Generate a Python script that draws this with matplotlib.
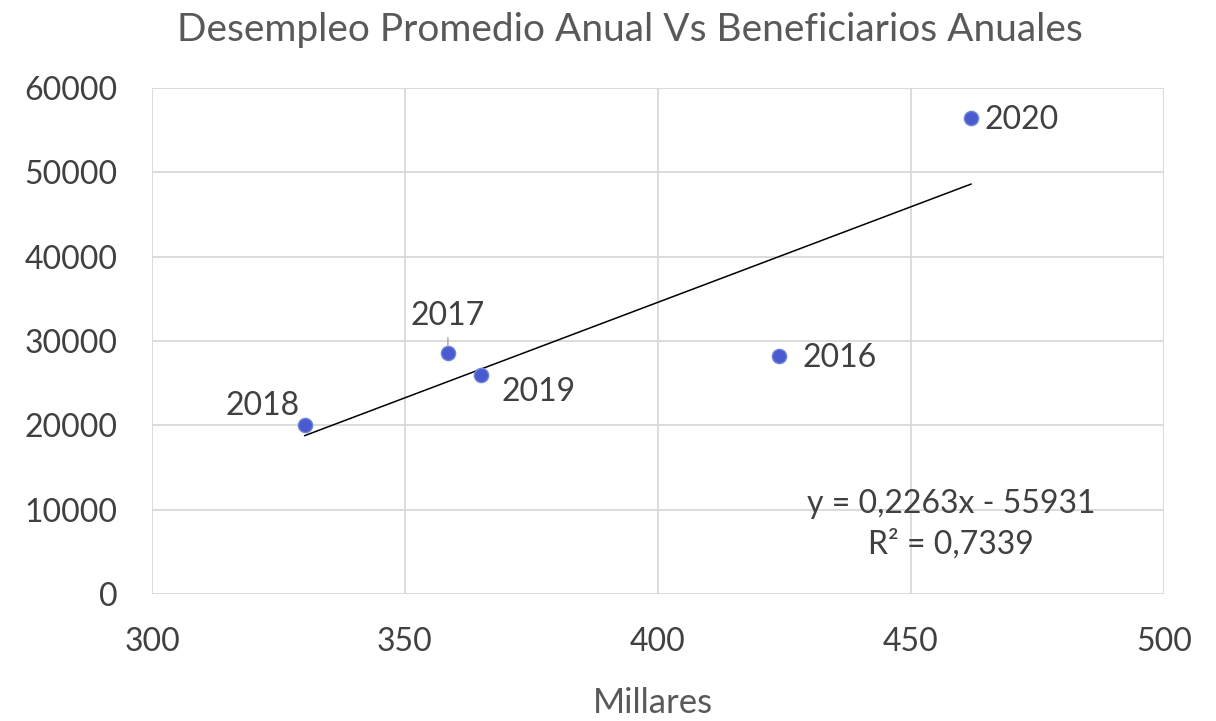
import matplotlib
matplotlib.use("Agg")
import matplotlib.pyplot as plt
import numpy as np

years = ["2016", "2017", "2018", "2019", "2020"]
desempleo_miles = [423.9, 358.5, 330.2, 365.0, 461.9]   # x, in thousands
beneficiarios = [28220, 28580, 20040, 25970, 56440]     # y
xticks = [300, 350, 400, 450, 500]
yticks = [0, 10000, 20000, 30000, 40000, 50000, 60000]
title = "Desempleo Promedio Anual Vs Beneficiarios Anuales"
xlabel = "Millares"
eq_text = "y = 0,2263x - 55931\nR² = 0,7339"

plt.rcParams['font.family'] = ['Lato', 'DejaVu Sans']

fig = plt.figure(figsize=(12.16, 7.21), dpi=100)
ax = fig.add_axes([0.125, 0.176, 0.832, 0.702])

x = np.array(desempleo_miles)
y = np.array(beneficiarios)

ax.set_xlim(300, 500)
ax.set_ylim(0, 60000)
ax.set_xticks(xticks)
ax.set_yticks(yticks)
ax.grid(True, color="#D9D9D9", linewidth=1.3)
ax.set_axisbelow(True)
for s in ax.spines.values():
    s.set_visible(False)
ax.tick_params(length=0, labelsize=23, colors="#404040")
ax.tick_params(axis='x', pad=24)
ax.tick_params(axis='y', pad=25)

# trendline
m, b = np.polyfit(x, y, 1)
xt = np.array([x.min(), x.max()])
ax.plot(xt, m * xt + b, color="black", linewidth=1.1, zorder=2)

ax.scatter(x, y, s=105, color="#4A5BD0", edgecolors="#6F86D8", linewidths=1.0, zorder=3)

offsets = {
    "2016": (17, -1.4, "left"),
    "2017": (0, 26.6, "center"),
    "2018": (-3.6, 13.7, "right"),
    "2019": (15, -12, "left"),
    "2020": (10, -1.4, "left"),
}
for xi, yi, yr in zip(x, y, years):
    dx, dy, ha = offsets[yr]
    ax.annotate(yr, (xi, yi), xytext=(dx, dy), textcoords="offset points",
                ha=ha, va="center", fontsize=23, color="#404040")
# leader line for 2017
i17 = years.index("2017")
ax.annotate("", (x[i17], y[i17]), xytext=(0, 11), textcoords="offset points",
            arrowprops=dict(arrowstyle="-", color="#A6A6A6", lw=1, shrinkA=0, shrinkB=5))

ax.text(0.79, 0.138, eq_text, transform=ax.transAxes, ha="center", va="center",
        fontsize=23, color="#404040", linespacing=1.45)

fig.text(0.518, 0.959, title, ha="center", va="center", fontsize=28, color="#595959")
fig.text(0.537, 0.025, xlabel, ha="center", va="center", fontsize=25, color="#595959")

fig.savefig("out.png", dpi=100)
